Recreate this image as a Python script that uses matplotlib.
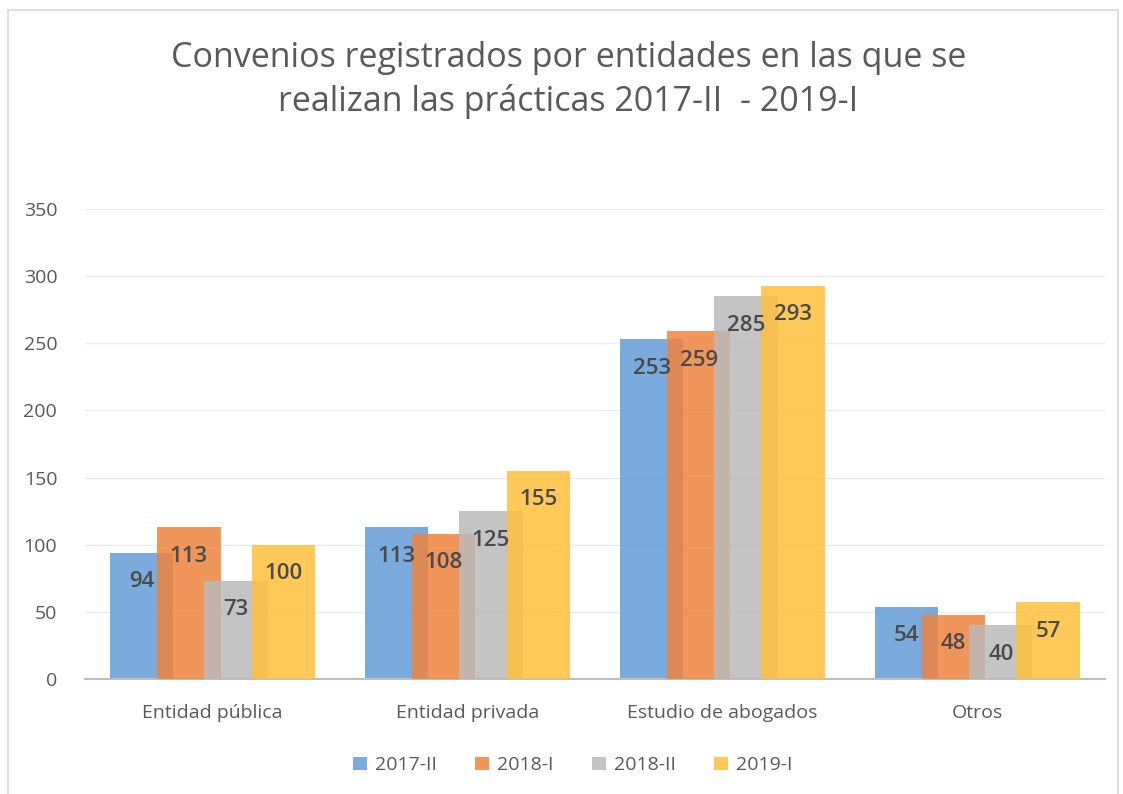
import numpy as np
import matplotlib.pyplot as plt
from matplotlib.patches import Rectangle

plt.rcParams['font.family'] = ['Open Sans', 'DejaVu Sans']

# data
categories = ['Entidad pública', 'Entidad privada', 'Estudio de abogados', 'Otros']
series = ['2017-II', '2018-I', '2018-II', '2019-I']
v_2017_II = [94, 113, 253, 54]
v_2018_I = [113, 108, 259, 48]
v_2018_II = [73, 125, 285, 40]
v_2019_I = [100, 155, 293, 57]
values = [v_2017_II, v_2018_I, v_2018_II, v_2019_I]
colors = ['#649BD6', '#EE843D', '#BABABA', '#FFC03D']

fig = plt.figure(figsize=(11.23, 7.94), dpi=100)
ax = fig.add_axes([0.0757, 0.1448, 0.908, 0.592])

x = np.arange(len(categories))
width = 0.248
step = 0.185
for i, (name, vals, c) in enumerate(zip(series, values, colors)):
    pos = x + (i - 1.5) * step
    bars = ax.bar(pos, vals, width, color=c, alpha=0.85, label=name, zorder=2 + i)
    for b, v in zip(bars, vals):
        ax.text(b.get_x() + b.get_width() / 2, v - 21.5, str(v), ha='center', va='center',
                fontsize=16, fontweight='semibold', color='#4a4a4a', zorder=10)

ax.set_ylim(0, 350)
ax.set_xlim(-0.5, 3.5)
ax.set_yticks(range(0, 351, 50))
ax.set_xticks(x)
ax.set_xticklabels(categories)
ax.tick_params(axis='both', length=0, labelsize=14, labelcolor='#595959')
ax.tick_params(axis='y', pad=20)
ax.tick_params(axis='x', pad=18)
ax.grid(axis='y', color='#EBEBEB', linewidth=1, zorder=0)
ax.set_axisbelow(True)
for s in ['top', 'right', 'left']:
    ax.spines[s].set_visible(False)
ax.spines['bottom'].set_color('#BFBFBF')
ax.spines['bottom'].set_linewidth(1.5)

fig.text(0.506, 0.899, 'Convenios registrados por entidades en las que se\nrealizan las prácticas 2017-II  - 2019-I',
         ha='center', va='center', fontsize=24.5, color='#595959', linespacing=1.35)

leg = fig.legend(loc='center', bbox_to_anchor=(0.51, 0.036), ncol=4, frameon=False,
                 fontsize=14, handlelength=0.7, handleheight=0.7, columnspacing=2.0,
                 handletextpad=0.4)
for t in leg.get_texts():
    t.set_color('#595959')

fig.patches.append(Rectangle((8 / 1123, -0.01), 1110 / 1123, 1 - 10 / 794 + 0.01,
                             transform=fig.transFigure, fill=False,
                             edgecolor='#D9D9D9', linewidth=1.2))

fig.savefig('out.png', dpi=100)
